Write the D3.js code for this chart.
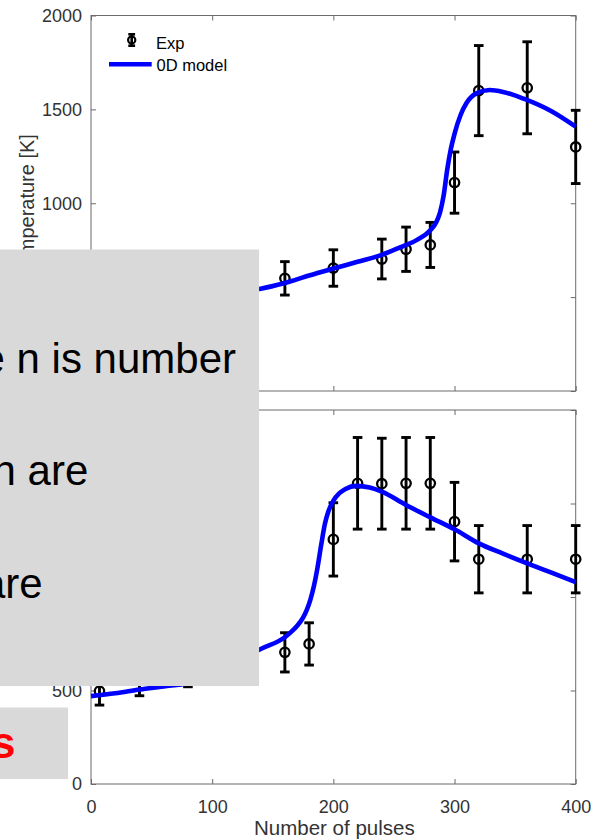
<!DOCTYPE html>
<html>
<head>
<meta charset="utf-8">
<script src="https://cdn.jsdelivr.net/npm/d3@7"></script>
<style>
  html, body { margin: 0; padding: 0; background: #ffffff; }
  svg { display: block; }
</style>
</head>
<body>
<svg id="fig" width="591" height="840"></svg>
<script>
// ---- tick values ----
const xTickValues = [0, 100, 200, 300, 400];
const yTickValues = [0, 500, 1000, 1500, 2000];

// ---- upper panel: measured temperature with error bars ----
const upperExpPulses = [7, 40, 80, 160, 200, 240, 260, 280, 300, 320, 360, 400];
const upperExpTemp   = [460, 490, 525, 600, 655, 703, 755, 778, 1110, 1600, 1615, 1300];
const upperExpErr    = [70, 70, 80, 89, 97, 106, 118, 120, 163, 240, 245, 195];

// ---- upper panel: 0D model curve ----
const upperModelPulses = [0, 20, 40, 60, 80, 100, 120, 140, 160, 180, 200, 220, 240, 255, 269, 280, 285, 288, 291, 294, 297, 300, 305, 310, 318, 329, 340, 357, 380, 400];
const upperModelTemp   = [430, 445, 462, 480, 498, 515, 530, 545, 575, 615, 652, 688, 725, 765, 805, 856, 900, 950, 1040, 1180, 1290, 1370, 1470, 1535, 1585, 1603, 1593, 1557, 1490, 1408];

// ---- lower panel: measured temperature with error bars ----
const lowerExpPulses = [7, 40, 80, 160, 180, 200, 220, 240, 260, 280, 300, 320, 360, 400];
const lowerExpTemp   = [497, 560, 600, 704, 749, 1308, 1608, 1606, 1608, 1608, 1403, 1202, 1202, 1202];
const lowerExpErr    = [75, 88, 80, 105, 113, 196, 245, 243, 245, 245, 210, 180, 180, 180];

// ---- lower panel: 0D model curve ----
const lowerModelPulses = [0, 20, 40, 60, 80, 100, 120, 140, 160, 165, 170, 175, 178, 181, 184, 187, 190, 193, 196, 200, 205, 210, 219, 230, 240, 260, 280, 300, 320, 340, 360, 380, 400];
const lowerModelTemp   = [470, 485, 505, 522, 540, 590, 650, 722, 785, 812, 845, 890, 930, 985, 1060, 1160, 1280, 1390, 1460, 1515, 1555, 1578, 1594, 1585, 1563, 1492, 1426, 1362, 1287, 1232, 1180, 1130, 1080];

// ---- legend and labels ----
const legendLabels = ["Exp", "0D model"];
const xAxisTitle = "Number of pulses";
const yAxisTitle = "Temperature [K]";

// ---- callout text ----
const calloutLines = ["where n is number", "shown are", "results are"];
const calloutHighlight = "Results";

const FONT = "'Liberation Sans', Arial, Helvetica, sans-serif";
const AXIS_GRAY = "#6b6b6b";
const TEXT_GRAY = "#333333";
const MODEL_BLUE = "#0000ff";

const svg = d3.select("#fig");

const x = d3.scaleLinear().domain([0, 400]).range([91, 575.7]);

const panels = [
  { top: 15.5, bottom: 391, expX: upperExpPulses, expY: upperExpTemp, expE: upperExpErr,
    modX: upperModelPulses, modY: upperModelTemp, legend: true, xLabels: false, yTitle: true },
  { top: 410, bottom: 784, expX: lowerExpPulses, expY: lowerExpTemp, expE: lowerExpErr,
    modX: lowerModelPulses, modY: lowerModelTemp, legend: false, xLabels: true, yTitle: false }
];

function styleAxis(g) {
  g.select(".domain").remove();
  g.selectAll(".tick line").attr("stroke", AXIS_GRAY).attr("stroke-width", 1);
  g.selectAll(".tick text").attr("fill", TEXT_GRAY).attr("font-family", FONT).attr("font-size", 18);
}

panels.forEach(p => {
  const y = d3.scaleLinear().domain([0, 2000]).range([p.bottom, p.top]);
  const g = svg.append("g");
  const [x0, x1] = x.range();

  // white plotting area
  g.append("rect").attr("x", x0).attr("y", p.top)
    .attr("width", x1 - x0).attr("height", p.bottom - p.top).attr("fill", "#ffffff");

  // inward ticks on all four sides
  g.append("g").attr("transform", `translate(${x0},0)`)
    .call(d3.axisLeft(y).tickValues(yTickValues).tickSizeInner(-5).tickSizeOuter(0).tickPadding(9)
      .tickFormat(d3.format("d")))
    .call(styleAxis);
  g.append("g").attr("transform", `translate(${x1},0)`)
    .call(d3.axisRight(y).tickValues(yTickValues).tickSizeInner(-5).tickSizeOuter(0).tickFormat(""))
    .call(styleAxis);
  g.append("g").attr("transform", `translate(0,${p.top})`)
    .call(d3.axisTop(x).tickValues(xTickValues).tickSizeInner(-5).tickSizeOuter(0).tickFormat(""))
    .call(styleAxis);
  g.append("g").attr("transform", `translate(0,${p.bottom})`)
    .call(d3.axisBottom(x).tickValues(xTickValues).tickSizeInner(-5).tickSizeOuter(0).tickPadding(16)
      .tickFormat(p.xLabels ? d3.format("d") : ""))
    .call(styleAxis);

  // axes box
  g.append("rect").attr("x", x0).attr("y", p.top)
    .attr("width", x1 - x0).attr("height", p.bottom - p.top)
    .attr("fill", "none").attr("stroke", AXIS_GRAY).attr("stroke-width", 1);

  // y axis title
  if (p.yTitle) {
    g.append("text")
      .attr("transform", `translate(33.5,${(p.top + p.bottom) / 2 + 2}) rotate(-90)`)
      .attr("text-anchor", "middle").attr("font-family", FONT).attr("font-size", 20)
      .attr("fill", TEXT_GRAY).text(yAxisTitle);
  }

  // experimental points with error bars
  const pts = p.expX.map((v, i) => ({ px: v, t: p.expY[i], e: p.expE[i] }));
  const eb = g.append("g").attr("stroke", "#000").attr("stroke-width", 2.9).attr("fill", "none");
  pts.forEach(d => {
    const cx = x(d.px);
    const yl = y(d.t - d.e), yh = y(d.t + d.e);
    eb.append("line").attr("x1", cx).attr("x2", cx).attr("y1", yl).attr("y2", yh);
    eb.append("line").attr("x1", cx - 4.8).attr("x2", cx + 4.8).attr("y1", yl).attr("y2", yl);
    eb.append("line").attr("x1", cx - 4.8).attr("x2", cx + 4.8).attr("y1", yh).attr("y2", yh);
    eb.append("circle").attr("cx", cx).attr("cy", y(d.t)).attr("r", 4.7).attr("stroke-width", 2.3);
  });

  // model curve
  const line = d3.line().x(d => x(d[0])).y(d => y(d[1])).curve(d3.curveMonotoneX);
  g.append("path").datum(p.modX.map((v, i) => [v, p.modY[i]]))
    .attr("d", line).attr("fill", "none").attr("stroke", MODEL_BLUE)
    .attr("stroke-width", 4.6).attr("stroke-linejoin", "round");

  if (p.legend) {
    const lg = g.append("g");
    const lx = 131.7;
    lg.append("line").attr("x1", lx).attr("x2", lx).attr("y1", 34.3).attr("y2", 45.7)
      .attr("stroke", "#000").attr("stroke-width", 2.6);
    [34.3, 45.7].forEach(yy => lg.append("line").attr("x1", lx - 3.4).attr("x2", lx + 3.4)
      .attr("y1", yy).attr("y2", yy).attr("stroke", "#000").attr("stroke-width", 2.6));
    lg.append("circle").attr("cx", lx).attr("cy", 40).attr("r", 3.6)
      .attr("fill", "none").attr("stroke", "#000").attr("stroke-width", 2.2);
    lg.append("text").attr("x", 156).attr("y", 48.5).attr("font-family", FONT)
      .attr("font-size", 16.5).attr("fill", "#000").text(legendLabels[0]);
    lg.append("line").attr("x1", 109).attr("x2", 151.7).attr("y1", 64.3).attr("y2", 64.3)
      .attr("stroke", MODEL_BLUE).attr("stroke-width", 4.6);
    lg.append("text").attr("x", 156.5).attr("y", 70.5).attr("font-family", FONT)
      .attr("font-size", 16.5).attr("fill", "#000").text(legendLabels[1]);
  }
});

// x axis title
svg.append("text").attr("x", (x.range()[0] + x.range()[1]) / 2 + 1).attr("y", 835)
  .attr("text-anchor", "middle").attr("font-family", FONT).attr("font-size", 20.5)
  .attr("fill", TEXT_GRAY).text(xAxisTitle);

// ---- callout panels laid over the figure ----
const defs = svg.append("defs");
defs.append("clipPath").attr("id", "clipNote")
  .append("rect").attr("x", 0).attr("y", 249.3).attr("width", 259.3).attr("height", 436.7);
defs.append("clipPath").attr("id", "clipTag")
  .append("rect").attr("x", 0).attr("y", 707.3).attr("width", 68.3).attr("height", 71.7);

const note = svg.append("g").attr("clip-path", "url(#clipNote)");
note.append("rect").attr("x", 0).attr("y", 249.3).attr("width", 259.3).attr("height", 436.7)
  .attr("fill", "#d9d9d9");
const noteEnds = [236, 88.3, 42.7];
const noteBase = [373, 485, 598];
calloutLines.forEach((s, i) => {
  note.append("text").attr("x", noteEnds[i]).attr("y", noteBase[i])
    .attr("text-anchor", "end").attr("font-family", FONT).attr("font-size", 42)
    .attr("fill", "#000").text(s);
});

const tag = svg.append("g").attr("clip-path", "url(#clipTag)");
tag.append("rect").attr("x", 0).attr("y", 707.3).attr("width", 68.3).attr("height", 71.7)
  .attr("fill", "#d9d9d9");
tag.append("text").attr("x", 15.5).attr("y", 758).attr("text-anchor", "end")
  .attr("font-family", FONT).attr("font-size", 44).attr("font-weight", "bold")
  .attr("fill", "#ff0000").text(calloutHighlight);
</script>
</body>
</html>
